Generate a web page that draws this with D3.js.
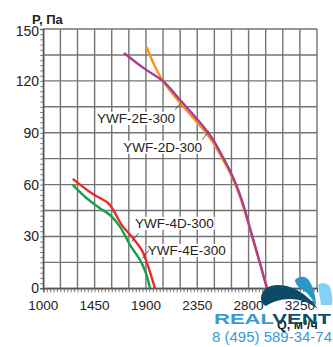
<!DOCTYPE html>
<html><head><meta charset="utf-8">
<script src="https://cdn.jsdelivr.net/npm/d3@7"></script>
<style>
html,body{margin:0;padding:0;background:#fff;}
svg{display:block;font-family:"Liberation Sans",Arial,sans-serif;}
</style></head>
<body><svg id="c" width="333" height="347"></svg>
<script>
// ---- data ----
const xTickLabels = [1000, 1450, 1900, 2350, 2800, 3250];
const yTickLabels = [0, 30, 60, 90, 120, 150];
const seriesNames = ["YWF-2D-300", "YWF-2E-300", "YWF-4D-300", "YWF-4E-300"];
const seriesColors = ["#f7941d", "#ab3d90", "#ee2a24", "#14a24b"];
const q2D = [1906, 1979, 2052, 2198, 2315, 2403, 2490, 2564, 2637, 2700, 2760, 2820, 2885, 2965];
const p2D = [139.6, 128.3, 119.7, 107.3, 98.6, 91.8, 84.1, 75.6, 66.8, 57.2, 46, 32.5, 17.8, 0];
const q2E = [1707, 1877, 2052, 2198, 2315, 2403, 2490, 2564, 2637, 2700, 2760, 2820, 2885, 2960];
const p2E = [136.1, 127.5, 119.7, 109.1, 100.4, 93.6, 85.9, 77.2, 68, 58.5, 47, 33, 18, 0];
const q4D = [1258, 1424, 1570, 1614, 1687, 1775, 1863, 1920, 1979];
const p4D = [63.3, 55, 49.2, 45.3, 36.7, 29.9, 22.2, 12.5, 0];
const q4E = [1258, 1380, 1497, 1585, 1672, 1760, 1848, 1900, 1935];
const p4E = [59.8, 52.1, 46.3, 42.4, 35.7, 25.1, 16.4, 8.7, 0];
// label anchors (data units) and leader lines
const labelQ = [1701, 1471, 1804, 1915];
const labelP = [79, 95.7, 35, 19.3];
const leaderQ1 = [2394, 2156, 1835, 1925];
const leaderP1 = [86, 103.3, 31.9, 22.1];
const leaderQ2 = [2453, 2204, 1777, 1870];
const leaderP2 = [91.1, 107.1, 27.1, 17.3];

const svg = d3.select("#c");
const x = d3.scaleLinear().domain([1000, 3400]).range([43.3, 317]);
const y = d3.scaleLinear().domain([0, 150]).range([288.3, 29]);

// grid
const g = svg.append("g");
g.selectAll("line.v").data(d3.range(1000, 3401, 150)).join("line")
  .attr("x1", d => x(d)).attr("x2", d => x(d)).attr("y1", y(0)).attr("y2", y(150))
  .attr("stroke", "#747474").attr("stroke-width", 1.4);
g.selectAll("line.h").data(d3.range(0, 151, 15)).join("line")
  .attr("x1", x(1000)).attr("x2", x(3400)).attr("y1", d => y(d)).attr("y2", d => y(d))
  .attr("stroke", "#747474").attr("stroke-width", 1.4);

// axes with minor ticks
const xAxis = d3.axisBottom(x).tickValues(d3.range(1000, 3401, 30)).tickSize(4).tickFormat("");
svg.append("g").attr("transform", `translate(0,${y(0)})`).call(xAxis)
  .call(s => { s.select(".domain").attr("stroke", "#555").attr("stroke-width", 1.4); s.selectAll(".tick line").attr("stroke", "#666").attr("stroke-width", 0.9); });
const yAxis = d3.axisLeft(y).tickValues(d3.range(0, 151, 3)).tickSize(3).tickFormat("");
svg.append("g").attr("transform", `translate(${x(1000)},0)`).call(yAxis)
  .call(s => { s.select(".domain").attr("stroke", "#555").attr("stroke-width", 1.4); s.selectAll(".tick line").attr("stroke", "#666").attr("stroke-width", 0.9); });

// tick labels
svg.append("g").selectAll("text").data(xTickLabels).join("text")
  .attr("x", d => x(d)).attr("y", 310).attr("text-anchor", "middle")
  .attr("font-size", 13.5).attr("fill", "#222").text(d => d);
svg.append("g").selectAll("text").data(yTickLabels).join("text")
  .attr("x", 39).attr("y", d => y(d) + 5 + (d === 150 ? 1.5 : 0)).attr("text-anchor", "end")
  .attr("font-size", 14).attr("fill", "#222").text(d => d);

svg.append("text").attr("x", 32).attr("y", 24).attr("font-size", 13).attr("font-weight", "bold")
  .attr("fill", "#222").text("P, Па");
svg.append("text").attr("x", 277).attr("y", 328.5).attr("font-size", 12.5).attr("font-weight", "bold")
  .attr("fill", "#222").text("Q, м³/ч");

// curves
const qs = [q2D, q2E, q4D, q4E], ps = [p2D, p2E, p4D, p4E];
const line = d3.line().x(d => x(d[0])).y(d => y(d[1])).curve(d3.curveCatmullRom.alpha(0.5));
qs.forEach((q, i) => {
  svg.append("path").datum(q.map((v, j) => [v, ps[i][j]]))
    .attr("d", line).attr("fill", "none").attr("stroke", seriesColors[i])
    .attr("stroke-width", 2.4).attr("stroke-linejoin", "round");
});

// labels
seriesNames.forEach((name, i) => {
  const lg = svg.append("g");
  const t = lg.append("text").attr("x", x(labelQ[i])).attr("y", y(labelP[i]))
    .attr("font-size", 13.5).attr("fill", "#222").text(name);
  const bb = t.node().getBBox();
  lg.insert("rect", "text").attr("x", bb.x - 1).attr("y", bb.y + 1).attr("width", bb.width + 2)
    .attr("height", bb.height - 2).attr("fill", "#fff");
  svg.append("line").attr("x1", x(leaderQ1[i])).attr("y1", y(leaderP1[i]))
    .attr("x2", x(leaderQ2[i])).attr("y2", y(leaderP2[i])).attr("stroke", "#333").attr("stroke-width", 0.8);
});

// logo
const logo = svg.append("g");
logo.append("path").attr("d", "M261,299 C261,290 268,285 278,285 C294,285 309,296 318,309 C310,303 300,299 290,299 C280,299 272,302 266,306 C263,305 261,302 261,299 Z")
  .attr("fill", "#0c4a66");
logo.append("path").attr("d", "M295,280 C300,275 307,276 310,282 C314,289 316,298 316,306 C312,298 307,292 301,289 C297,286 295,283 295,280 Z")
  .attr("fill", "#2b97c9");
logo.append("path").attr("d", "M318,285 C321,282 327,282 330,287 C332,292 333,299 332,305 L321,305 C320,299 319,292 318,285 Z")
  .attr("fill", "#82d2f5");
logo.append("text").attr("x", 214).attr("y", 323.5).attr("font-size", 15).attr("font-weight", 900)
  .attr("font-family", "Arial Black, Liberation Sans, sans-serif")
  .attr("textLength", 117).attr("lengthAdjust", "spacingAndGlyphs")
  .html('<tspan fill="#3a9bd2">REAL</tspan><tspan fill="#0d4c6c">VENT</tspan>');
logo.append("text").attr("x", 212).attr("y", 341.5).attr("font-size", 14.5)
  .attr("fill", "#3a9ad4").attr("textLength", 120).attr("lengthAdjust", "spacingAndGlyphs")
  .text("8 (495) 589-34-74");
</script></body></html>
